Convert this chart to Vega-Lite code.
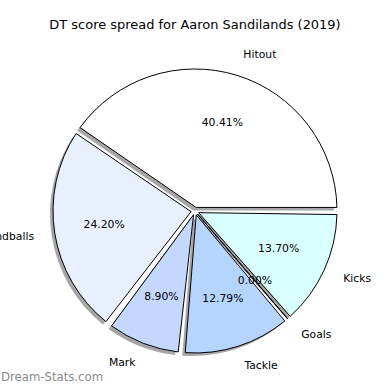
{
  "$schema": "https://vega.github.io/schema/vega-lite/v6.json",
  "autosize": {"type": "pad"},
  "padding": {"left": -20, "top": 19, "right": 0, "bottom": 0},
  "title": {"text": "Dream-Stats.com", "orient": "bottom", "anchor": "start", "frame": "group", "offset": 1, "dx": -44, "baseline": "top", "font": "DejaVu Sans", "fontSize": 11.7, "fontWeight": "normal", "color": "#8a8a8a"},
  "config": {"view": {"stroke": null}, "font": "DejaVu Sans"},
  "vconcat": [
    {
      "width": 300,
      "height": 300,
      "title": {"text": "DT score spread for Aaron Sandilands (2019)", "anchor": "middle", "frame": "group", "offset": 7, "baseline": "alphabetic", "font": "DejaVu Sans", "fontSize": 12.96, "fontWeight": "normal", "color": "#000000"},
      "data": {"values": [
        {"stat": "Hitout", "share": 0.4041, "i": 1},
        {"stat": "Handballs", "share": 0.2420, "i": 2},
        {"stat": "Mark", "share": 0.0890, "i": 3},
        {"stat": "Tackle", "share": 0.1279, "i": 4},
        {"stat": "Goals", "share": 0.0000, "i": 5},
        {"stat": "Kicks", "share": 0.1370, "i": 6}
      ]},
      "encoding": {
        "theta": {"field": "share", "type": "quantitative", "stack": true, "scale": {"domain": [0, 1], "range": [1.5707963, -4.712389]}},
        "order": {"field": "i", "type": "quantitative"}
      },
      "layer": [
        {
          "mark": {"type": "arc", "outerRadius": 142, "innerRadius": 4, "padAngle": 0.05, "xOffset": -3, "yOffset": 3, "fill": "#4d4d4d", "opacity": 0.5},
          "encoding": {"detail": {"field": "stat"}}
        },
        {
          "mark": {"type": "arc", "outerRadius": 142, "innerRadius": 4, "padAngle": 0.05, "stroke": "#000000", "strokeWidth": 1},
          "encoding": {
            "color": {"field": "stat", "type": "nominal", "legend": null,
              "scale": {"domain": ["Hitout", "Handballs", "Mark", "Tackle", "Goals", "Kicks"],
                        "range": ["#ffffff", "#e9f0fd", "#c4d8fe", "#b5d5ff", "#9fc5ff", "#d9ffff"]}}
          }
        },
        {
          "mark": {"type": "text", "radius": 92, "fontSize": 10.8, "color": "#000000", "align": "center", "baseline": "middle"},
          "encoding": {"detail": {"field": "stat"}, "text": {"field": "share", "type": "quantitative", "format": ".2%"}}
        },
        {
          "mark": {"type": "text", "radius": 163, "fontSize": 10.8, "color": "#000000", "baseline": "middle",
                   "align": {"expr": "datum.stat == 'Handballs' || datum.stat == 'Mark' ? 'right' : 'left'"}},
          "encoding": {"detail": {"field": "stat"}, "text": {"field": "stat"}}
        }
      ]
    }
  ]
}
